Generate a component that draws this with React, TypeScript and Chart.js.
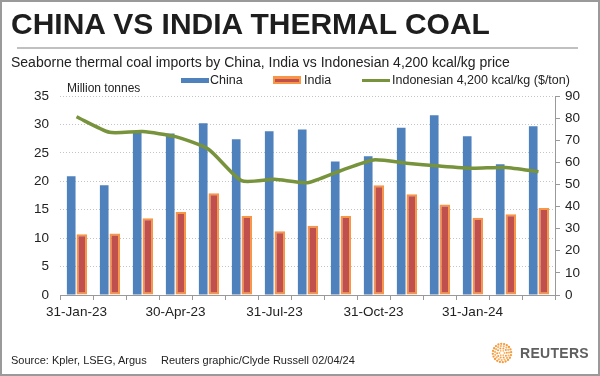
import React, { useEffect, useRef } from 'react';
import { Chart, registerables } from 'chart.js';
Chart.register(...registerables);

const months = ['Jan-23', 'Feb-23', 'Mar-23', 'Apr-23', 'May-23', 'Jun-23', 'Jul-23', 'Aug-23', 'Sep-23', 'Oct-23', 'Nov-23', 'Dec-23', 'Jan-24', 'Feb-24', 'Mar-24'];
const tickLabels = ['31-Jan-23', '', '', '30-Apr-23', '', '', '31-Jul-23', '', '', '31-Oct-23', '', '', '31-Jan-24', '', ''];
const chinaImports = [20.9, 19.3, 28.6, 28.4, 30.2, 27.4, 28.8, 29.1, 23.5, 24.4, 29.4, 31.6, 27.9, 23.0, 29.7];
const indiaImports = [10.7, 10.8, 13.5, 14.6, 17.9, 13.9, 11.2, 12.2, 13.9, 19.3, 17.7, 15.9, 13.6, 14.2, 15.3];
const indoPrice = [80.6, 73.6, 73.9, 71.6, 65.9, 51.7, 52.3, 50.8, 56.2, 61.1, 59.6, 58.3, 57.3, 57.7, 55.8];

const FONT = "'Liberation Sans', Arial, Helvetica, sans-serif";
const BLUE = '#4F81BD';
const RED = '#C0504D';
const ORANGE = '#F79646';
const GREEN = '#77933C';

function ReutersLogo() {
  const dots: React.ReactNode[] = [];
  const rings = [
    { r: 2.5, n: 6, s: 0.9 },
    { r: 4.8, n: 10, s: 1.0 },
    { r: 7.0, n: 15, s: 1.1 },
    { r: 9.2, n: 20, s: 1.15 },
  ];
  rings.forEach((ring, ri) => {
    for (let i = 0; i < ring.n; i++) {
      const a = (i / ring.n) * Math.PI * 2 + ri * 0.6;
      dots.push(
        <circle key={ri + '-' + i} cx={11 + ring.r * Math.cos(a)} cy={11 + ring.r * Math.sin(a)} r={ring.s} fill={ri % 2 ? '#F39A3D' : '#F7B366'} />
      );
    }
  });
  return (
    <svg width={22} height={22} style={{ position: 'absolute', left: 491, top: 342 }}>
      {dots}
    </svg>
  );
}

export default function App() {
  const ref = useRef<HTMLCanvasElement>(null);
  useEffect(() => {
    document.body.style.margin = '0';
    const chart = new Chart(ref.current!, {
      type: 'bar',
      data: {
        labels: months,
        datasets: [
          {
            type: 'line',
            label: 'Indonesian 4,200 kcal/kg ($/ton)',
            data: indoPrice,
            yAxisID: 'y1',
            borderColor: GREEN,
            borderWidth: 3.5,
            pointRadius: 0,
            tension: 0.2,
            fill: false,
            order: 0,
          } as any,
          {
            label: 'China',
            data: chinaImports,
            yAxisID: 'y',
            backgroundColor: BLUE,
            borderWidth: 0,
            barPercentage: 0.82,
            categoryPercentage: 0.64,
            order: 1,
          },
          {
            label: 'India',
            data: indiaImports,
            yAxisID: 'y',
            backgroundColor: RED,
            borderColor: ORANGE,
            borderWidth: 2,
            borderSkipped: false,
            barPercentage: 1,
            categoryPercentage: 0.64,
            order: 2,
          },
        ],
      },
      options: {
        responsive: false,
        animation: false,
        layout: { padding: { top: 96, left: 0, right: 0, bottom: 0 } },
        plugins: { legend: { display: false }, tooltip: { enabled: false } },
        scales: {
          x: {
            offset: true,
            grid: { offset: true, drawOnChartArea: false, drawTicks: true, tickLength: 5, color: '#999' },
            border: { display: true, color: '#999' },
            ticks: {
              autoSkip: false,
              maxRotation: 0,
              padding: 4,
              color: '#222',
              font: { family: FONT, size: 13.5 },
              callback: (_v: any, i: number) => tickLabels[i],
            },
            afterFit: (s: any) => { s.height = 81; },
          },
          y: {
            position: 'left',
            min: 0,
            max: 35,
            ticks: { stepSize: 5, padding: 11, color: '#222', font: { family: FONT, size: 13.5 } },
            grid: { drawTicks: false, color: '#c4c4c4', lineWidth: 1 },
            border: { display: false, dash: [1, 2] },
            afterFit: (s: any) => { s.width = 60; },
          },
          y1: {
            position: 'right',
            min: 0,
            max: 90,
            ticks: { stepSize: 10, padding: 5, color: '#222', font: { family: FONT, size: 13.5 } },
            grid: { drawOnChartArea: false, drawTicks: true, tickLength: 5, color: '#999' },
            border: { display: true, color: '#999' },
            afterFit: (s: any) => { s.width = 45; },
          },
        },
      },
    });
    return () => chart.destroy();
  }, []);

  const txt = (extra: React.CSSProperties): React.CSSProperties => ({
    position: 'absolute',
    whiteSpace: 'nowrap',
    fontFamily: FONT,
    color: '#222',
    ...extra,
  });

  return (
    <div style={{ position: 'relative', width: 600, height: 376, overflow: 'hidden', background: '#fff' }}>
      <canvas ref={ref} width={600} height={376} style={{ position: 'absolute', left: 0, top: 0, width: 600, height: 376 }} />
      <div style={txt({ left: 11, top: 6, fontSize: 30, lineHeight: '36px', fontWeight: 'bold', color: '#1e1e1e' })}>CHINA VS INDIA THERMAL COAL</div>
      <div style={{ position: 'absolute', left: 17, top: 47, width: 561, height: 1.5, background: '#c0c0c0' }} />
      <div style={txt({ left: 11, top: 53, fontSize: 14, lineHeight: '18px' })}>Seaborne thermal coal imports by China, India vs Indonesian 4,200 kcal/kg price</div>

      <div style={{ position: 'absolute', left: 181, top: 78, width: 28, height: 5, background: BLUE }} />
      <div style={txt({ left: 210, top: 72, fontSize: 12.5, lineHeight: '16px' })}>China</div>
      <div style={{ position: 'absolute', left: 272.5, top: 76, width: 28, height: 8, background: ORANGE }} />
      <div style={{ position: 'absolute', left: 274.5, top: 78.5, width: 24, height: 3, background: RED }} />
      <div style={txt({ left: 304, top: 72, fontSize: 12.5, lineHeight: '16px' })}>India</div>
      <div style={{ position: 'absolute', left: 362, top: 79, width: 28, height: 3, background: GREEN }} />
      <div style={txt({ left: 392, top: 72, fontSize: 12.5, lineHeight: '16px' })}>Indonesian 4,200 kcal/kg ($/ton)</div>

      <div style={txt({ left: 67, top: 80, fontSize: 12, lineHeight: '16px' })}>Million tonnes</div>

      <div style={txt({ left: 11, top: 353, fontSize: 11, lineHeight: '14px' })}>Source: Kpler, LSEG, Argus</div>
      <div style={txt({ left: 161, top: 353, fontSize: 11, lineHeight: '14px' })}>Reuters graphic/Clyde Russell 02/04/24</div>

      <ReutersLogo />
      <div style={txt({ left: 520, top: 344, fontSize: 14, lineHeight: '18px', fontWeight: 'bold', color: '#5f5f5f', letterSpacing: 0.3 })}>REUTERS</div>

      <div style={{ position: 'absolute', left: 0, top: 0, width: 600, height: 376, boxSizing: 'border-box', border: '2px solid #9a9a9a', pointerEvents: 'none' }} />
    </div>
  );
}
